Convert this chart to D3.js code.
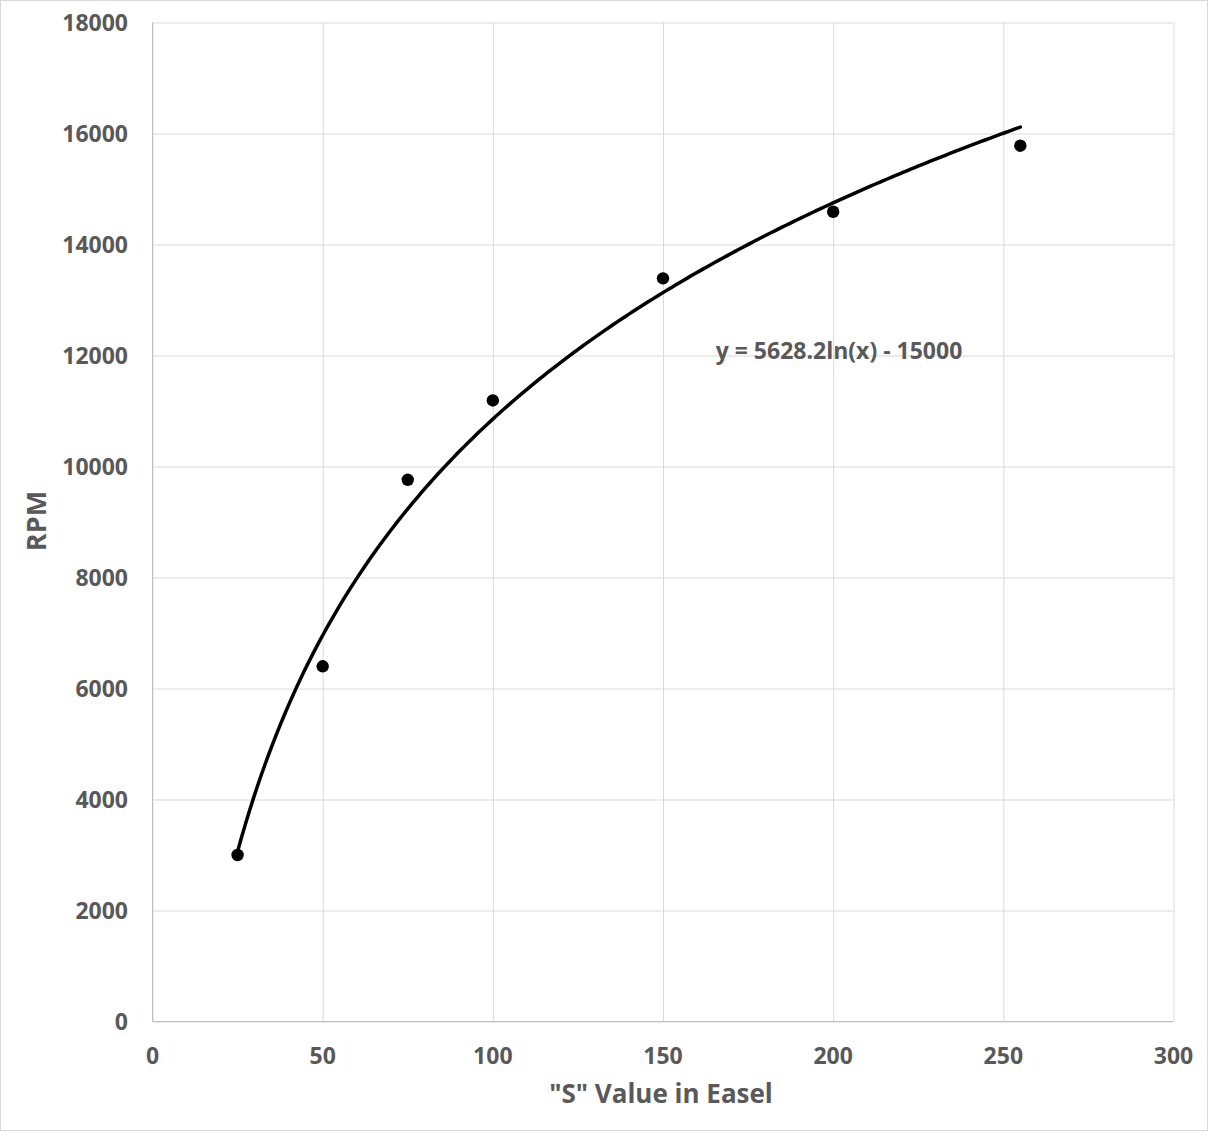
<!DOCTYPE html>
<html><head><meta charset="utf-8">
<script src="https://cdn.jsdelivr.net/npm/d3@7"></script>
<style>html,body{margin:0;padding:0;background:#fff;}svg{display:block;}</style>
</head><body>
<svg id="chart" width="1208" height="1131"></svg>
<script>
const sValues = [25, 50, 75, 100, 150, 200, 255];
const rpmValues = [3000, 6400, 9760, 11190, 13390, 14590, 15780];
const xTicks = [0, 50, 100, 150, 200, 250, 300];
const yTicks = [0, 2000, 4000, 6000, 8000, 10000, 12000, 14000, 16000, 18000];
const trendLabel = "y = 5628.2ln(x) - 15000";
const xTitle = '"S" Value in Easel';
const yTitle = "RPM";

// logarithmic least-squares trendline fitted to the data
const lnX = sValues.map(Math.log);
const mLn = d3.mean(lnX), mY = d3.mean(rpmValues);
const slope = d3.sum(lnX, (v,i)=>(v-mLn)*(rpmValues[i]-mY)) / d3.sum(lnX, v=>(v-mLn)*(v-mLn));
const intercept = mY - slope*mLn;

const svg = d3.select("#chart");
const font = "'Open Sans', sans-serif";
const textColor = "#595959";
const m = {left: 152.5, right: 1173.5, top: 22.5, bottom: 1021.5};
const x = d3.scaleLinear().domain([0, 300]).range([m.left, m.right]);
const y = d3.scaleLinear().domain([0, 18000]).range([m.bottom, m.top]);

svg.append("rect").attr("x",0.5).attr("y",0.5).attr("width",1207).attr("height",1130)
  .attr("fill","#fff").attr("stroke","#d9d9d9");

// gridlines
const gx = svg.append("g").attr("transform",`translate(0,${m.bottom})`)
  .call(d3.axisBottom(x).tickValues(xTicks).tickSize(-(m.bottom-m.top)).tickFormat(""));
gx.selectAll(".tick line").attr("stroke","#d9d9d9").attr("stroke-width",1);
gx.select(".domain").remove();
const gy = svg.append("g").attr("transform",`translate(${m.left},0)`)
  .call(d3.axisLeft(y).tickValues(yTicks).tickSize(-(m.right-m.left)).tickFormat(""));
gy.selectAll(".tick line").attr("stroke","#d9d9d9").attr("stroke-width",1);
gy.select(".domain").remove();

// axis lines
svg.append("line").attr("x1",m.left).attr("x2",m.left).attr("y1",m.top).attr("y2",m.bottom).attr("stroke","#bfbfbf");
svg.append("line").attr("x1",m.left).attr("x2",m.right).attr("y1",m.bottom).attr("y2",m.bottom).attr("stroke","#bfbfbf");

// tick labels
svg.append("g").selectAll("text").data(yTicks).join("text")
  .attr("x",128).attr("y",d=>y(d)).attr("dy","0.35em").attr("text-anchor","end")
  .attr("font-family",font).attr("font-weight",700).attr("font-size",23).attr("fill",textColor)
  .text(d=>d);
svg.append("g").selectAll("text").data(xTicks).join("text")
  .attr("x",d=>x(d)).attr("y",1056).attr("dy","0.35em").attr("text-anchor","middle")
  .attr("font-family",font).attr("font-weight",700).attr("font-size",23).attr("fill",textColor)
  .text(d=>d);

// axis titles
svg.append("text").attr("x",661).attr("y",1094).attr("dy","0.35em").attr("text-anchor","middle")
  .attr("font-family",font).attr("font-weight",700).attr("font-size",26).attr("fill",textColor).text(xTitle);
svg.append("text").attr("transform","translate(37,521) rotate(-90)").attr("dy","0.35em").attr("text-anchor","middle")
  .attr("font-family",font).attr("font-weight",700).attr("font-size",27).attr("fill",textColor).text(yTitle);

// trendline
const trendX = d3.range(0, 201).map(i => 25 + (255-25)*i/200);
const line = d3.line().x(d=>x(d)).y(d=>y(slope*Math.log(d)+intercept));
svg.append("path").datum(trendX).attr("d",line).attr("fill","none").attr("stroke","#000")
  .attr("stroke-width",3.5).attr("stroke-linecap","round");

// points
svg.append("g").selectAll("circle").data(sValues).join("circle")
  .attr("cx",d=>x(d)).attr("cy",(d,i)=>y(rpmValues[i])).attr("r",6.2).attr("fill","#000");

// equation label
svg.append("text").attr("x",839).attr("y",351).attr("dy","0.35em").attr("text-anchor","middle")
  .attr("font-family",font).attr("font-weight",700).attr("font-size",23).attr("fill",textColor).text(trendLabel);
</script>
</body></html>
